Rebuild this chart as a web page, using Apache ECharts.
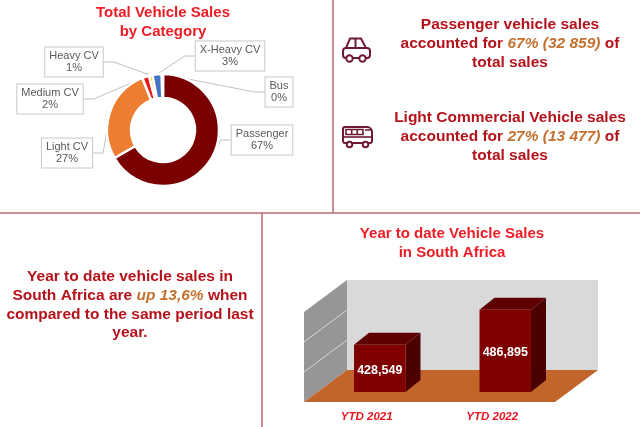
<!DOCTYPE html>
<html><head><meta charset="utf-8">
<script src="https://cdn.jsdelivr.net/npm/echarts@6/dist/echarts.min.js"></script>
<style>html,body{margin:0;padding:0;background:#fff}#c{width:640px;height:427px}</style>
</head><body><div id="c"></div><script>
// ---- data ----
const categories = ['Passenger', 'Light CV', 'Medium CV', 'Heavy CV', 'X-Heavy CV', 'Bus'];
const categorySales = [32859, 13477, 980, 490, 1320, 170];
const categoryColors = ['#7B0000', '#ED7D31', '#E41B17', '#FFC000', '#4472C4', '#A5A5A5'];
const ytdLabels = ['YTD 2021', 'YTD 2022'];
const ytdSales = [428549, 486895];
const yMin = 350000, yMax = 500000, yInterval = 50000;

// ---- derived text ----
const FONT = '"Liberation Sans", Arial, sans-serif';
const total = categorySales.reduce((a, b) => a + b, 0);
const spaceFmt = n => String(n).replace(/\B(?=(\d{3})+(?!\d))/g, ' ');
const commaFmt = n => String(n).replace(/\B(?=(\d{3})+(?!\d))/g, ',');
const share = i => Math.round(categorySales[i] / total * 100);
const growth = ((ytdSales[1] / ytdSales[0] - 1) * 100).toFixed(1).replace('.', ',');

const TXT = '#B5121B', ORANGE = '#C4702F', TITLE = '#EE1C25', ICON = '#6E1A33', DIV = '#BB6A72';

const labelPos = [[262, 140], [67, 153], [50, 99], [74, 62], [230, 56], [279, 92]];

const chart = echarts.init(document.getElementById('c'));

function richBlock(x, y, text, lh) {
  return {
    type: 'text', x: x, y: y,
    style: {
      text: text, align: 'center', verticalAlign: 'top',
      fill: TXT, fontSize: 15.5, fontWeight: 'bold', fontFamily: FONT, lineHeight: lh,
      rich: { o: { fill: ORANGE, fontStyle: 'italic', fontWeight: 'bold', fontSize: 15.5, fontFamily: FONT, lineHeight: lh } }
    }
  };
}
function titleBlock(x, y, text) {
  return {
    type: 'text', x: x, y: y,
    style: { text: text, align: 'center', verticalAlign: 'top', fill: TITLE, fontSize: 15, fontWeight: 'bold', fontFamily: FONT, lineHeight: 18.5 }
  };
}
const iconStroke = { stroke: ICON, lineWidth: 2, fill: null };
const thin = Object.assign({}, iconStroke, { lineWidth: 1.6 });
const carIcon = {
  type: 'group', x: 342, y: 37,
  children: [
    { type: 'polyline', shape: { points: [[4, 11], [8, 1.5], [19, 1.5], [24, 11]] }, style: iconStroke },
    { type: 'line', shape: { x1: 13.5, y1: 1.5, x2: 13.5, y2: 11 }, style: iconStroke },
    { type: 'rect', shape: { x: 1, y: 11, width: 27, height: 10, r: 3 }, style: iconStroke },
    { type: 'circle', shape: { cx: 7.5, cy: 21.5, r: 3.2 }, style: { stroke: ICON, lineWidth: 2, fill: '#fff' } },
    { type: 'circle', shape: { cx: 20.5, cy: 21.5, r: 3.2 }, style: { stroke: ICON, lineWidth: 2, fill: '#fff' } }
  ]
};
const busIcon = {
  type: 'group', x: 342, y: 126,
  children: [
    { type: 'rect', shape: { x: 1, y: 1, width: 29, height: 16, r: [2, 5, 2, 2] }, style: iconStroke },
    { type: 'rect', shape: { x: 4, y: 3.5, width: 17, height: 5 }, style: thin },
    { type: 'line', shape: { x1: 9.7, y1: 3.5, x2: 9.7, y2: 8.5 }, style: thin },
    { type: 'line', shape: { x1: 15.3, y1: 3.5, x2: 15.3, y2: 8.5 }, style: thin },
    { type: 'line', shape: { x1: 23, y1: 4, x2: 29, y2: 4 }, style: thin },
    { type: 'line', shape: { x1: 1, y1: 11, x2: 30, y2: 11 }, style: thin },
    { type: 'circle', shape: { cx: 7.5, cy: 18.5, r: 2.8 }, style: { stroke: ICON, lineWidth: 2, fill: '#fff' } },
    { type: 'circle', shape: { cx: 23.5, cy: 18.5, r: 2.8 }, style: { stroke: ICON, lineWidth: 2, fill: '#fff' } }
  ]
};
const divStyle = { stroke: DIV, lineWidth: 1.5 };

const pieData = categories.map((n, i) => ({ name: n, value: categorySales[i], itemStyle: { color: categoryColors[i] } }));

// depth of the pseudo-3D box
const DX = 43, DY = -32;
const BAR_OX = 13, BAR_OY = -10, BAR_DX = 15, BAR_DY = -12;

chart.setOption({
  animation: false,
  backgroundColor: '#fff',
  grid: { left: 304, width: 251, top: 312, height: 90, containLabel: false, outerBoundsMode: 'none' },
  xAxis: {
    type: 'category', data: ytdLabels,
    axisLine: { show: false }, axisTick: { show: false }, splitLine: { show: false },
    axisLabel: { color: '#E8141E', fontWeight: 'bold', fontStyle: 'italic', fontSize: 11.5, fontFamily: FONT, margin: 9 }
  },
  yAxis: { type: 'value', min: yMin, max: yMax, interval: yInterval, show: false, splitLine: { show: false } },
  graphic: [
    { type: 'line', shape: { x1: 333, y1: 0, x2: 333, y2: 213 }, style: divStyle },
    { type: 'line', shape: { x1: 0, y1: 213, x2: 640, y2: 213 }, style: divStyle },
    { type: 'line', shape: { x1: 262, y1: 213, x2: 262, y2: 427 }, style: divStyle },
    titleBlock(163, 4, 'Total Vehicle Sales\nby Category'),
    titleBlock(452, 225, 'Year to date Vehicle Sales\nin South Africa'),
    richBlock(510, 15.5, categories[0] + ' vehicle sales\naccounted for {o|' + share(0) + '% (' + spaceFmt(categorySales[0]) + ')} of\ntotal sales', 19),
    richBlock(510, 108.5, 'Light Commercial Vehicle sales\naccounted for {o|' + share(1) + '% (' + spaceFmt(categorySales[1]) + ')} of\ntotal sales', 19),
    richBlock(130, 267.5, 'Year to date vehicle sales in\nSouth Africa are {o|up ' + growth + '%} when\ncompared to the same period last\nyear.', 18.7),
    carIcon, busIcon
  ],
  series: [
    {
      type: 'pie',
      center: [163, 130], radius: [32, 56],
      startAngle: 90, clockwise: true,
      avoidLabelOverlap: false, percentPrecision: 0,
      itemStyle: { borderColor: '#fff', borderWidth: 2.5 },
      label: {
        show: true, position: 'outside', formatter: '{b}\n{d}%',
        color: '#595959', fontSize: 11, fontFamily: FONT, lineHeight: 12.5,
        backgroundColor: '#fff', borderColor: '#C8C8C8', borderWidth: 1, padding: [2, 4]
      },
      labelLine: { show: true, length: 10, length2: 10, lineStyle: { color: '#C0C0C0', width: 1 } },
      labelLayout: function (p) {
        const pos = labelPos[p.dataIndex];
        return { x: pos[0], y: pos[1], align: 'center', verticalAlign: 'middle' };
      },
      emphasis: { disabled: true },
      data: pieData
    },
    {
      type: 'custom', silent: true, z: 1,
      data: [[0, yMin]],
      renderItem: function (params, api) {
        const cs = params.coordSys;
        const L = cs.x, R = cs.x + cs.width, T = cs.y, B = cs.y + cs.height;
        const children = [
          { type: 'polygon', shape: { points: [[L + DX, T + DY], [R + DX, T + DY], [R + DX, B + DY], [L + DX, B + DY]] }, style: { fill: '#D9D9D9' } },
          { type: 'polygon', shape: { points: [[L, T], [L + DX, T + DY], [L + DX, B + DY], [L, B]] }, style: { fill: '#969696' } },
          { type: 'polygon', shape: { points: [[L, B], [R, B], [R + DX, B + DY], [L + DX, B + DY]] }, style: { fill: '#C1652B' } }
        ];
        for (let v = yMin + yInterval; v < yMax; v += yInterval) {
          const y = api.coord([0, v])[1];
          children.push({ type: 'line', shape: { x1: L, y1: y, x2: L + DX, y2: y + DY }, style: { stroke: '#D8D8D8', lineWidth: 1 } });
        }
        return { type: 'group', children: children };
      }
    },
    {
      type: 'custom', silent: true, z: 2,
      data: ytdSales.map((v, i) => [i, v]),
      renderItem: function (params, api) {
        const idx = api.value(0), val = api.value(1);
        const base = api.coord([idx, yMin]);
        const top = api.coord([idx, val]);
        const bw = api.size([1, 0])[0] * 0.41;
        const x0 = base[0] - bw / 2 + BAR_OX, x1 = x0 + bw;
        const yb = base[1] + BAR_OY, yt = top[1] + BAR_OY;
        return {
          type: 'group', children: [
            { type: 'polygon', shape: { points: [[x1, yt], [x1 + BAR_DX, yt + BAR_DY], [x1 + BAR_DX, yb + BAR_DY], [x1, yb]] }, style: { fill: '#4C0000' } },
            { type: 'polygon', shape: { points: [[x0, yt], [x1, yt], [x1 + BAR_DX, yt + BAR_DY], [x0 + BAR_DX, yt + BAR_DY]] }, style: { fill: '#5E0000' } },
            { type: 'rect', shape: { x: x0, y: yt, width: bw, height: yb - yt }, style: { fill: '#800000' } },
            { type: 'text', x: (x0 + x1) / 2, y: (yt + yb) / 2 + 2, style: { text: commaFmt(val), align: 'center', verticalAlign: 'middle', fill: '#fff', fontSize: 12.5, fontWeight: 'bold', fontFamily: FONT } }
          ]
        };
      }
    }
  ]
});
</script></body></html>
